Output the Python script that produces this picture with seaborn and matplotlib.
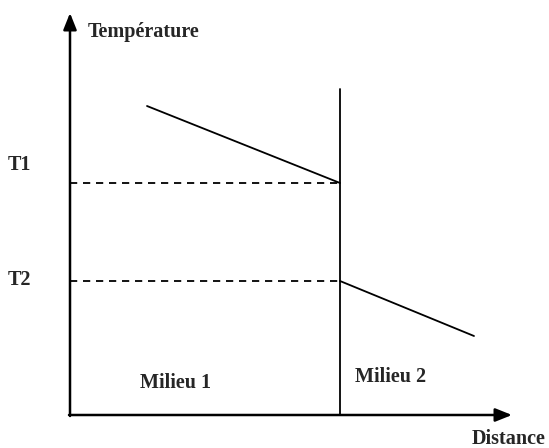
import matplotlib
matplotlib.use("Agg")
import matplotlib.pyplot as plt
import seaborn as sns
import pandas as pd

# Data (arbitrary units: distance, temperature)
milieu1_distance = [7.7, 27.0]
milieu1_temperature = [30.9, 23.2]
milieu2_distance = [27.0, 40.4]
milieu2_temperature = [13.4, 7.9]
interface_distance = [27.0, 27.0]
interface_temperature = [0.0, 32.6]
t_levels = [23.2, 13.4]
t_labels = ["T1", "T2"]
region_labels = ["Milieu 1", "Milieu 2"]

sns.set_style("white")
plt.rcParams['font.family'] = ['Liberation Serif', 'DejaVu Serif']

fig = plt.figure(figsize=(5.49, 4.48), dpi=100)
ax = fig.add_axes([0, 0, 1, 1])
ax.set_xlim(-7.0, 47.9)
ax.set_ylim(-3.3, 41.5)
ax.axis("off")

df1 = pd.DataFrame({"d": milieu1_distance, "t": milieu1_temperature})
df2 = pd.DataFrame({"d": milieu2_distance, "t": milieu2_temperature})
dfi = pd.DataFrame({"d": interface_distance, "t": interface_temperature})
for df in (df1, df2, dfi):
    sns.lineplot(data=df, x="d", y="t", ax=ax, color="black", lw=1.3,
                 estimator=None, sort=False)
ax.set_xlabel("")
ax.set_ylabel("")

FS = 14.5
# dashed levels
label_offsets = [1.8, 0.1]
for lvl, lab, off in zip(t_levels, t_labels, label_offsets):
    ax.plot([0, interface_distance[0]], [lvl, lvl], color="black", lw=1.3,
            ls=(0, (4, 3.2)))
    ax.text(-6.2, lvl + off, lab, fontsize=FS,
            fontweight="bold", va="center", ha="left")

# axes with arrows
ax.annotate("", xy=(0, 40.2), xytext=(0, -0.1),
            arrowprops=dict(arrowstyle="-|>,head_length=1.0,head_width=0.4",
                            color="black", lw=1.8, shrinkA=0, shrinkB=0))
ax.annotate("", xy=(44.2, 0), xytext=(-0.1, 0),
            arrowprops=dict(arrowstyle="-|>,head_length=1.0,head_width=0.4",
                            color="black", lw=1.8, shrinkA=0, shrinkB=0))

ax.text(1.8, 38.3, "Température", fontsize=FS, fontweight="bold",
        va="center", ha="left")
ax.text(47.6, -2.4, "Distance", fontsize=FS, fontweight="bold",
        va="center", ha="right")
ax.text(7.0, 3.2, region_labels[0], fontsize=FS, fontweight="bold",
        va="center", ha="left")
ax.text(28.5, 3.8, region_labels[1], fontsize=FS, fontweight="bold",
        va="center", ha="left")

fig.savefig("out.png", dpi=100)
